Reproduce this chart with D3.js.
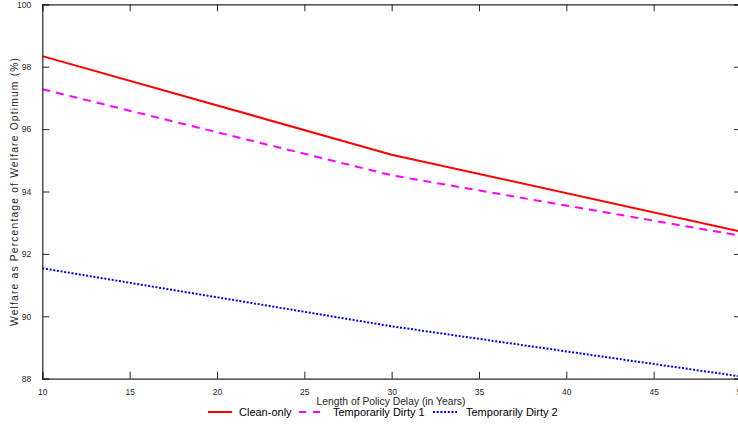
<!DOCTYPE html>
<html>
<head>
<meta charset="utf-8">
<script src="https://cdn.jsdelivr.net/npm/d3@7"></script>
<style>
  body { margin: 0; background: #fff; }
  svg { display: block; font-family: "Liberation Sans", Arial, sans-serif; }
</style>
</head>
<body>
<div id="chart"></div>
<script>
// policy delay (years) and welfare (% of optimum)
var delays = [10, 30, 50];
var cleanOnly = [98.34, 95.18, 92.71];
var dirty1 = [97.28, 94.52, 92.58];
var dirty2 = [91.54, 89.68, 88.07];
var xTicks = [10, 15, 20, 25, 30, 35, 40, 45, 50];
var yTicks = [88, 90, 92, 94, 96, 98, 100];

var series = [
  {name: "Clean-only", values: cleanOnly, color: "#ff0000", dash: null},
  {name: "Temporarily Dirty 1", values: dirty1, color: "#ff00ff", dash: "8,6"},
  {name: "Temporarily Dirty 2", values: dirty2, color: "#0000ff", dash: "2,1.7"}
];

var width = 738, height = 429;
var margin = {top: 4.3, left: 42.3, right: 741, bottom: 378.7};
var axisColor = "#262626";

var svg = d3.select("#chart")
  .append("svg")
    .attr("width", width)
    .attr("height", height);

var x = d3.scaleLinear().domain([10, 50]).range([margin.left, margin.right]);
var y = d3.scaleLinear().domain([88, 100]).range([margin.bottom, margin.top]);

// lines
var line = d3.line()
  .x((d, i) => x(delays[i]))
  .y(d => y(d));

svg.selectAll("path.series")
  .data(series)
  .enter()
  .append("path")
    .classed("series", true)
    .attr("d", d => line(d.values))
    .attr("fill", "none")
    .attr("stroke", d => d.color)
    .attr("stroke-width", d => d.dash == "2,1.7" ? 2 : 2)
    .attr("stroke-dasharray", d => d.dash);

// axes (MATLAB style box, ticks inward)
var tickLen = 7;

var xAxis = svg.append("g")
  .attr("transform", "translate(0," + margin.bottom + ")")
  .call(d3.axisBottom(x).tickValues(xTicks).tickSize(-tickLen).tickPadding(tickLen + 3));

var xTop = svg.append("g")
  .attr("transform", "translate(0," + margin.top + ")")
  .call(d3.axisTop(x).tickValues(xTicks).tickSize(-tickLen).tickFormat(""));

var yAxis = svg.append("g")
  .attr("transform", "translate(" + margin.left + ",0)")
  .call(d3.axisLeft(y).tickValues(yTicks).tickSize(-tickLen).tickPadding(tickLen + 4));

var yRight = svg.append("g")
  .attr("transform", "translate(" + margin.right + ",0)")
  .call(d3.axisRight(y).tickValues(yTicks).tickSize(-tickLen).tickFormat(""));

[xAxis, xTop, yAxis, yRight].forEach(function(a) {
  a.select(".domain").attr("stroke", axisColor).attr("stroke-width", 1.2);
  a.selectAll(".tick line").attr("stroke", axisColor).attr("stroke-width", 1);
  a.selectAll(".tick text")
    .attr("fill", axisColor)
    .style("font-size", "8.5px")
    .style("font-family", "'Liberation Sans', Arial, sans-serif");
});

// axis labels
svg.append("text")
  .text("Length of Policy Delay (in Years)")
  .attr("x", 391)
  .attr("y", 405)
  .attr("text-anchor", "middle")
  .attr("fill", axisColor)
  .style("font-size", "10.3px");

svg.append("text")
  .text("Welfare as Percentage of Welfare Optimum (%)")
  .attr("transform", "translate(18,192) rotate(-90)")
  .attr("text-anchor", "middle")
  .attr("textLength", 268)
  .attr("lengthAdjust", "spacing")
  .attr("fill", axisColor)
  .style("font-size", "10.3px");

// legend
var legendX = [208, 299, 433];
var legend = svg.selectAll("g.legend")
  .data(series)
  .enter()
  .append("g")
    .classed("legend", true)
    .attr("transform", (d, i) => "translate(" + legendX[i] + ",412)");

legend.append("line")
  .attr("x1", 0)
  .attr("x2", (d, i) => i == 1 ? 22 : 24)
  .attr("y1", 0)
  .attr("y2", 0)
  .attr("stroke", d => d.color)
  .attr("stroke-width", 2)
  .attr("stroke-dasharray", (d, i) => i == 1 ? "7,7" : d.dash);

legend.append("text")
  .text(d => d.name)
  .attr("x", (d, i) => [31, 34, 33][i])
  .attr("y", 4)
  .attr("fill", "#000")
  .style("font-size", "11px");
</script>
</body>
</html>
